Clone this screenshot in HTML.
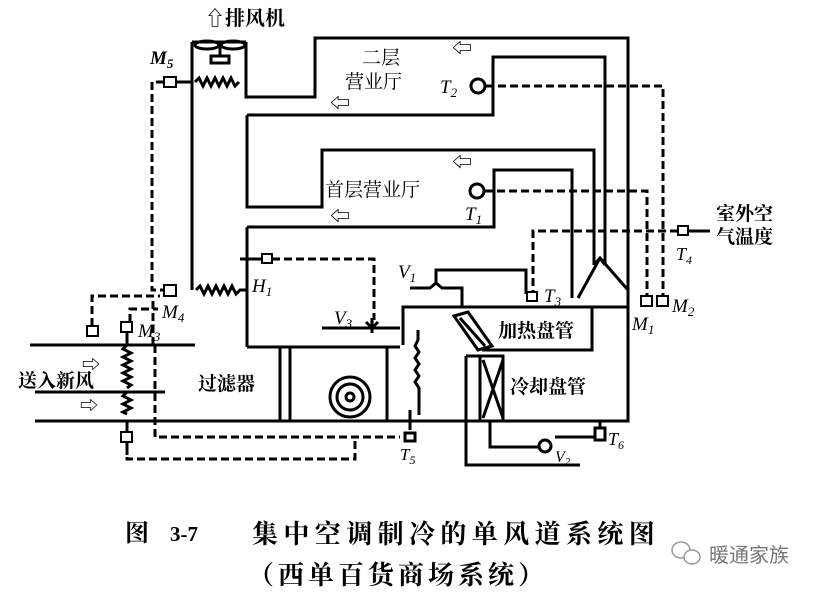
<!DOCTYPE html>
<html><head><meta charset="utf-8"><style>
html,body{margin:0;padding:0;background:#fff;width:815px;height:592px;overflow:hidden}
svg{display:block}
text{font-family:"Liberation Serif","Noto Serif CJK SC","Noto Sans CJK SC",serif;fill:#000}
.s{stroke:#000;stroke-width:3;fill:none}
.d{stroke:#000;stroke-width:3;fill:none;stroke-dasharray:8 4}
.t{stroke:#000;stroke-width:2;fill:#fff}
</style></head><body>
<svg width="815" height="592" viewBox="0 0 815 592">
<!-- exhaust -->
<text x="205" y="25" font-size="20" font-weight="bold">⇧排风机</text>
<path class="s" d="M192 42 H246 M192 42 V290 M246 42 V97 H315 V38 H628 V420"/>
<ellipse cx="207" cy="45" rx="12" ry="4" class="s" stroke-width="2"/><ellipse cx="233" cy="45" rx="12" ry="4" class="s" stroke-width="2"/>
<path class="s" stroke-width="2" d="M220 45 V56 M211 56 h18 v7 h-18 z"/>
<path class="s" stroke-width="2" d="M195 82 l4 -4 l4 8 l4 -8 l4 8 l4 -8 l4 8 l4 -8 l4 8 l4 -8 l4 8 l4 -4"/>
<rect x="164" y="77" width="12" height="10" class="t"/>
<path class="s" stroke-width="2" d="M176 82 H192"/>
<text x="150" y="64" font-size="19" font-style="italic" font-weight="bold">M<tspan font-size="13" dy="4">5</tspan></text>
<path class="d" d="M164 82 H152 V290 H164"/>
<!-- ducts -->
<path class="s" d="M247 115 H493 V57 H605 V265 M247 115 V207 H322 V150 H594 V265 M247 227 H494 V170 H572 V298 M247 227 V347"/>
<text x="362" y="64" font-size="19">二层</text>
<text x="345" y="88" font-size="19">营业厅</text>
<text x="325" y="196" font-size="19">首层营业厅</text>
<text x="330" y="110" font-size="20">⇦</text><text x="330" y="223" font-size="20">⇦</text>
<text x="452" y="55" font-size="20">⇦</text><text x="452" y="169" font-size="20">⇦</text>
<circle cx="478" cy="86" r="7" class="s"/>
<text x="440" y="93" font-size="19" font-style="italic">T<tspan font-size="13" dy="4">2</tspan></text>
<circle cx="477" cy="191" r="7" class="s"/>
<text x="465" y="220" font-size="19" font-style="italic">T<tspan font-size="13" dy="4">1</tspan></text>
<path class="d" d="M486 86 H663 V300 M485 191 H647 V300 M533 298 V231 H680"/>
<rect x="678" y="226" width="10" height="9" class="t"/><path class="s" d="M688 231 H710"/>
<text x="716" y="220" font-size="19" font-weight="bold">室外空</text>
<text x="716" y="243" font-size="19" font-weight="bold">气温度</text>
<text x="676" y="260" font-size="18" font-style="italic">T<tspan font-size="12" dy="4">4</tspan></text>
<path class="s" d="M594 265 L600 258 L605 265 M600 258 L578 298 M600 258 L628 290"/>
<!-- M1 M2 -->
<rect x="641" y="296" width="11" height="10" class="t"/><rect x="657" y="296" width="11" height="10" class="t"/>
<text x="672" y="312" font-size="19" font-style="italic">M<tspan font-size="13" dy="4">2</tspan></text>
<text x="632" y="330" font-size="19" font-style="italic">M<tspan font-size="13" dy="4">1</tspan></text>
<!-- lower -->
<path class="s" d="M403 345 V307 H628 M592 307 V350 H482 M628 420 V421 H35 M30 345 H195 M35 392 H165 M247 347 H400"/>
<path class="s" stroke-width="2" d="M280 347 V421 M290 347 V421 M387 347 V421"/>
<circle cx="350" cy="397" r="20" class="s" stroke-width="2"/><circle cx="350" cy="397" r="13" class="s" stroke-width="2"/>
<circle cx="350" cy="397" r="4" class="s" stroke-width="2"/>
<text x="198" y="390" font-size="19" font-weight="bold">过滤器</text>
<text x="18" y="387" font-size="19" font-weight="bold">送入新风</text>
<text x="82" y="371" font-size="18">⇨</text><text x="80" y="412" font-size="18">⇨</text>
<path class="s" stroke-width="2" d="M127 345 l-4 4 l8 4 l-8 4 l8 4 l-8 4 l8 4 l-8 4 l8 4 l-8 4 l8 4 l-4 3 M127 392 l-4 4 l8 4 l-8 4 l8 4 l-8 4 l4 2 M127 421 V455"/>
<path class="s" stroke-width="2" d="M196 290 l4 -4 l4 8 l4 -8 l4 8 l4 -8 l4 8 l4 -8 l4 8 l4 -8 l4 8 l4 -4 h6"/>
<rect x="164" y="285" width="12" height="11" class="t"/>
<text x="162" y="318" font-size="19" font-style="italic">M<tspan font-size="13" dy="4">4</tspan></text>
<rect x="121" y="322" width="11" height="10" class="t"/><path class="s" stroke-width="2" d="M127 332 V345"/>
<text x="138" y="337" font-size="19" font-style="italic">M<tspan font-size="13" dy="4">3</tspan></text>
<rect x="87" y="326" width="11" height="10" class="t"/><rect x="121" y="432" width="11" height="10" class="t"/>
<path class="d" d="M92 326 V296 H160 M130 322 V309 H158 M153 345 V300 M155 345 V437 H400 M127 445 V459 H355 V440"/>
<rect x="262" y="254" width="10" height="9" class="t"/>
<path class="s" d="M240 259 H262"/>
<text x="252" y="292" font-size="19" font-style="italic">H<tspan font-size="13" dy="4">1</tspan></text>
<path class="d" d="M272 259 H374 V320"/>
<!-- V3 -->
<path class="s" d="M322 328 H368"/>
<path class="s" stroke-width="2" d="M366 322 l6 6 l6 -6 M372 318 V333 M368 328 H400"/>
<text x="334" y="324" font-size="19" font-style="italic">V<tspan font-size="13" dy="4">3</tspan></text>
<!-- V1 -->
<text x="398" y="278" font-size="19" font-style="italic">V<tspan font-size="13" dy="4">1</tspan></text>
<path class="s" stroke-width="2" d="M410 288 H430 l6 -5 l6 5 H462 V307 M436 283 V270 H526 V294"/>
<rect x="527" y="292" width="10" height="9" class="t"/>
<text x="544" y="302" font-size="19" font-style="italic">T<tspan font-size="13" dy="4">3</tspan></text>
<!-- heating coil -->
<path class="s" stroke-width="2" d="M454 316 L468 312 L492 346 L478 350 Z M460 318 L485 346"/>
<text x="498" y="337" font-size="19" font-weight="bold">加热盘管</text>
<!-- cooling coil -->
<path class="s" stroke-width="2" d="M466 356 H503 V421 M466 356 V465 H580 M480 356 V421 M483 360 L503 418 M503 360 L483 418 M490 421 V447 H540"/>
<text x="510" y="393" font-size="19" font-weight="bold">冷却盘管</text>
<!-- zigzag near fan -->
<path class="s" stroke-width="2" d="M418 330 V340 l-3 6 l4 6 l-4 6 l4 6 l-4 6 l4 6 l-4 6 l4 6 V415"/>
<path class="s" stroke-width="2" d="M410 410 V430 M405 433 h10 v8 h-10 z"/>
<text x="400" y="460" font-size="17" font-style="italic">T<tspan font-size="12" dy="4">5</tspan></text>
<!-- T6 V2 -->
<path class="s" stroke-width="2" d="M600 421 V428 M595 428 h10 v12 h-10 z M595 437 H555"/>
<text x="608" y="445" font-size="18" font-style="italic">T<tspan font-size="12" dy="4">6</tspan></text>
<circle cx="545" cy="446" r="6" class="s" stroke-width="2"/>
<text x="555" y="462" font-size="16" font-style="italic">V<tspan font-size="11" dy="3">2</tspan></text>
<!-- caption -->
<text x="125" y="541" font-size="24" font-weight="bold">图</text>
<text x="170" y="541" font-size="21" font-weight="bold">3-7</text>
<text x="252" y="543" font-size="26" font-weight="bold" letter-spacing="5.4">集中空调制冷的单风道系统图</text>
<text x="248" y="584" font-size="26" font-weight="bold" letter-spacing="4">（西单百货商场系统）</text>
<g stroke="#999" stroke-width="1.5" fill="#fff"><ellipse cx="681" cy="550" rx="9" ry="8"/><ellipse cx="692" cy="557" rx="8" ry="7"/></g>
<text x="709" y="562" font-size="20" style="fill:#777;font-family:'Liberation Sans','Noto Sans CJK SC',sans-serif">暖通家族</text>
</svg>
</body></html>
